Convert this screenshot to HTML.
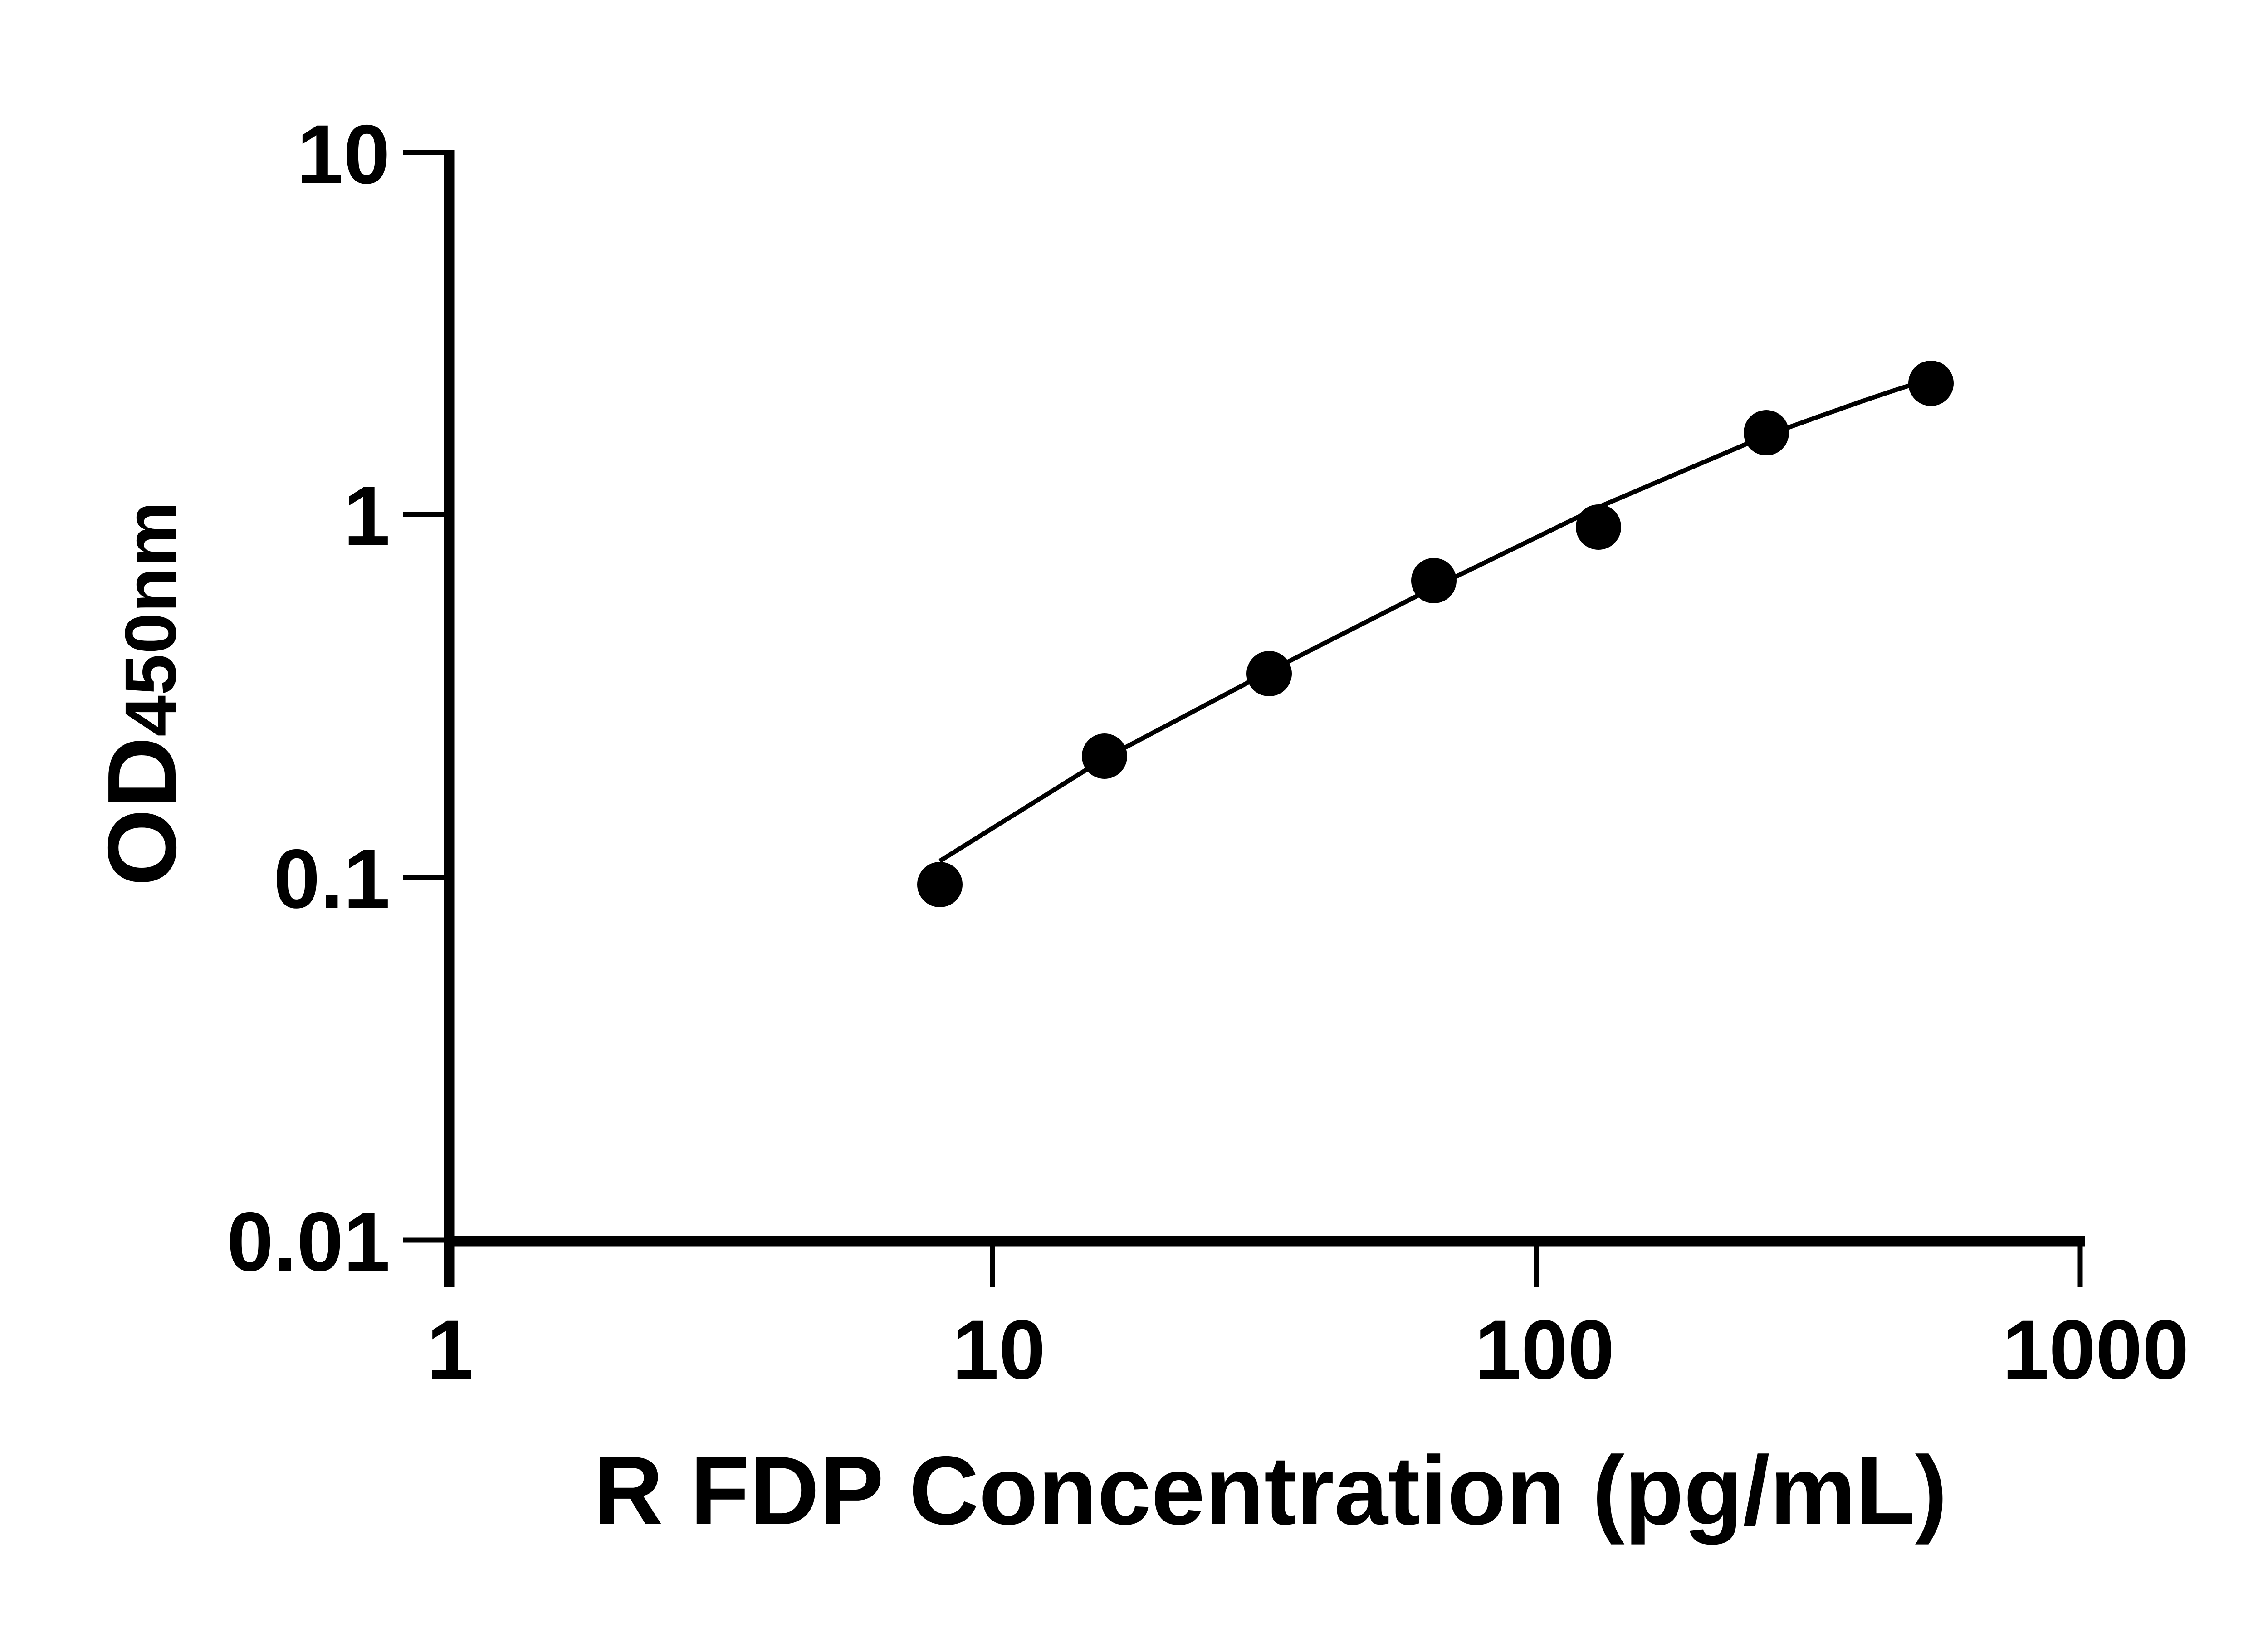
<!DOCTYPE html>
<html><head><style>html,body{margin:0;padding:0;background:#fff}svg{display:block}</style></head>
<body>
<svg width="5142" height="3600" viewBox="0 0 5142 3600" xmlns="http://www.w3.org/2000/svg" font-family="Liberation Sans, sans-serif" font-weight="bold">
<rect width="5142" height="3600" fill="#fff"/>
<g stroke="#000" fill="none">
<line x1="990" y1="330" x2="990" y2="2838" stroke-width="23"/>
<line x1="979" y1="2736" x2="4597" y2="2736" stroke-width="23"/>
<line x1="888" y1="336" x2="990" y2="336" stroke-width="11"/>
<line x1="888" y1="1134" x2="990" y2="1134" stroke-width="11"/>
<line x1="888" y1="1934" x2="990" y2="1934" stroke-width="11"/>
<line x1="888" y1="2734" x2="990" y2="2734" stroke-width="11"/>
<line x1="2188" y1="2736" x2="2188" y2="2838" stroke-width="11"/>
<line x1="3387" y1="2736" x2="3387" y2="2838" stroke-width="11"/>
<line x1="4586" y1="2736" x2="4586" y2="2838" stroke-width="11"/>
<path d="M2072,1898 L2435,1672 L2798,1480 L3161,1295 L3524,1118 L3894,960 C4010,918 4120,878 4225,845" stroke-width="10"/>
</g>
<g fill="#000">
<circle cx="2072" cy="1950" r="50"/>
<circle cx="2435" cy="1667" r="50"/>
<circle cx="2798" cy="1485" r="50"/>
<circle cx="3161" cy="1280" r="50"/>
<circle cx="3524" cy="1162" r="50"/>
<circle cx="3894" cy="954" r="50"/>
<circle cx="4257" cy="845" r="50"/>
</g>
<g font-size="185" text-anchor="end">
<text x="860" y="404">10</text>
<text x="860" y="1201">1</text>
<text x="860" y="2001">0.1</text>
<text x="860" y="2801">0.01</text>
</g>
<g font-size="185" text-anchor="middle">
<text x="992" y="3039">1</text>
<text x="2202" y="3039">10</text>
<text x="3405" y="3039">100</text>
<text x="4620" y="3039">1000</text>
</g>
<text x="1308" y="3360" font-size="215" textLength="2985" lengthAdjust="spacingAndGlyphs">R FDP Concentration (pg/mL)</text>
<text transform="translate(387,1954) rotate(-90)" font-size="215" textLength="849" lengthAdjust="spacingAndGlyphs">OD<tspan font-size="160">450nm</tspan></text>
</svg>
</body></html>
